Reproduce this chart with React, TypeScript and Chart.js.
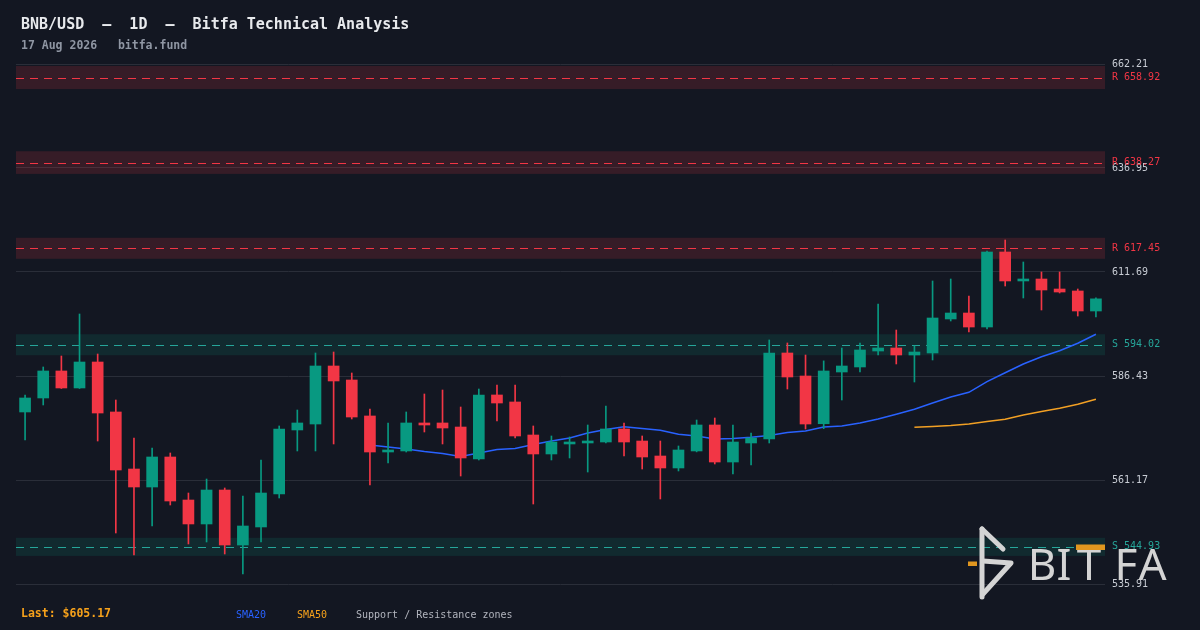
import React, { useEffect, useRef } from 'react';
import { Chart, registerables } from 'chart.js';

Chart.register(...registerables);

const BG = '#131722';
const MONO = '"DejaVu Sans Mono", "Liberation Mono", monospace';
const UP = '#089981';
const DOWN = '#f23645';

const TITLE = 'BNB/USD  –  1D  –  Bitfa Technical Analysis';
const SUBTITLE = '17 Aug 2026   bitfa.fund';
const LAST_LABEL = 'Last: $605.17';

const dates: string[] = Array.from({ length: 60 }, (_, i) =>
  new Date(Date.UTC(2026, 5, 19 + i)).toISOString().slice(0, 10)
);

const opens = [
  577.69, 581.09, 587.65, 583.52, 589.83, 577.69, 563.84, 559.47, 566.76, 556.31,
  550.49, 558.74, 545.38, 549.76, 557.77, 573.32, 574.77, 588.86, 585.46, 576.72,
  567.97, 568.22, 575.02, 575.02, 574.04, 566.27, 581.82, 580.12, 572.10, 567.49,
  569.92, 570.16, 570.40, 573.56, 570.64, 567.00, 564.09, 568.22, 574.53, 565.54,
  570.16, 571.13, 592.02, 586.43, 574.84, 587.40, 588.62, 592.50, 593.23, 591.53,
  592.02, 600.28, 601.73, 598.33, 616.55, 609.51, 609.99, 607.56, 607.08, 602.22,
];
const highs = [
  581.82, 588.62, 591.29, 601.49, 591.77, 580.60, 571.37, 568.94, 567.73, 558.01,
  561.41, 559.23, 557.29, 566.03, 574.29, 578.17, 592.02, 592.26, 587.16, 578.42,
  575.02, 577.69, 582.06, 583.03, 578.90, 583.27, 584.25, 584.25, 574.29, 571.86,
  571.62, 574.53, 579.15, 575.02, 571.86, 570.64, 569.43, 575.74, 576.23, 574.53,
  572.59, 595.18, 594.45, 591.53, 590.10, 593.23, 594.45, 603.92, 597.60, 593.72,
  609.51, 609.99, 605.86, 616.79, 619.46, 614.12, 611.69, 611.69, 607.56, 605.40,
];
const lows = [
  570.89, 579.39, 583.40, 583.40, 570.64, 548.30, 542.96, 550.00, 555.10, 545.63,
  546.11, 543.20, 538.34, 546.11, 556.80, 568.22, 568.22, 569.92, 575.99, 559.96,
  565.30, 567.97, 572.83, 569.92, 562.14, 566.03, 575.50, 571.37, 555.34, 566.03,
  566.52, 563.11, 570.20, 567.00, 563.84, 556.56, 563.36, 568.00, 565.06, 562.63,
  564.81, 570.16, 583.27, 573.56, 573.63, 580.60, 587.40, 591.53, 589.35, 584.97,
  590.32, 599.79, 597.12, 597.85, 608.29, 605.38, 602.46, 606.59, 601.00, 600.76,
];
const closes = [
  581.09, 587.65, 583.52, 589.83, 577.44, 563.60, 559.47, 566.76, 556.07, 550.49,
  558.74, 545.38, 550.00, 558.01, 573.56, 575.02, 588.86, 585.22, 576.47, 567.97,
  568.46, 575.02, 574.53, 573.80, 566.52, 581.82, 579.87, 571.86, 567.49, 570.40,
  570.40, 570.64, 573.56, 570.40, 566.76, 564.09, 568.46, 574.53, 565.54, 570.40,
  571.37, 592.02, 586.19, 574.77, 587.65, 588.86, 592.75, 593.23, 591.53, 592.26,
  600.52, 601.73, 598.33, 616.55, 609.51, 609.99, 607.32, 606.83, 602.22, 605.17,
];

const sma20: (number | null)[] = [
  null, null, null, null, null, null, null, null, null, null,
  null, null, null, null, null, null, null, null, null,
  569.67, 569.19, 568.70, 568.09, 567.61, 566.88, 567.73, 568.58, 568.82, 569.80,
  570.64, 571.37, 572.59, 573.44, 574.12, 573.68, 573.24, 572.27, 571.86, 571.13,
  571.25, 571.54, 571.98, 572.71, 573.07, 574.04, 574.29, 575.02, 575.99, 577.13,
  578.35, 579.87, 581.33, 582.47, 585.05, 587.23, 589.35, 591.12, 592.58, 594.38,
  596.56,
];
const sma50: (number | null)[] = [
  null, null, null, null, null, null, null, null, null, null,
  null, null, null, null, null, null, null, null, null, null,
  null, null, null, null, null, null, null, null, null, null,
  null, null, null, null, null, null, null, null, null, null,
  null, null, null, null, null, null, null, null, null,
  573.97, 574.16, 574.41, 574.77, 575.38, 575.91, 576.96, 577.81, 578.59, 579.56,
  580.77,
];

const yTicks = [535.91, 561.17, 586.43, 611.69, 636.95, 662.21];
const Y_MIN = 535.91;
const Y_MAX = 662.21;

const zonePrices = [658.92, 638.27, 617.45, 594.02, 544.93];
const zoneKinds = ['R', 'R', 'R', 'S', 'S'];
const zoneHalfWidths = [2.8, 2.75, 2.55, 2.55, 2.2];

const zonesPlugin = {
  id: 'zones',
  beforeDatasetsDraw(chart: any) {
    const { ctx, chartArea } = chart;
    const y = chart.scales.y;
    ctx.save();
    zonePrices.forEach((p, i) => {
      const res = zoneKinds[i] === 'R';
      const y1 = y.getPixelForValue(p + zoneHalfWidths[i]);
      const y2 = y.getPixelForValue(p - zoneHalfWidths[i]);
      ctx.fillStyle = res ? 'rgba(242,54,69,0.16)' : 'rgba(8,153,129,0.15)';
      ctx.fillRect(chartArea.left, y1, chartArea.right - chartArea.left, y2 - y1);
      const yc = Math.round(y.getPixelForValue(p)) + 0.5;
      ctx.strokeStyle = res ? '#f23645' : '#26a69a';
      ctx.lineWidth = 1.2;
      ctx.setLineDash([8, 6]);
      ctx.beginPath();
      ctx.moveTo(chartArea.left, yc);
      ctx.lineTo(chartArea.right, yc);
      ctx.stroke();
    });
    ctx.restore();
  },
  afterDraw(chart: any) {
    const { ctx, chartArea } = chart;
    const y = chart.scales.y;
    ctx.save();
    ctx.font = '10px ' + MONO;
    ctx.textAlign = 'left';
    ctx.textBaseline = 'middle';
    zonePrices.forEach((p, i) => {
      const res = zoneKinds[i] === 'R';
      ctx.fillStyle = res ? '#f23645' : '#26a69a';
      ctx.fillText(zoneKinds[i] + ' ' + p.toFixed(2), chartArea.right + 7, y.getPixelForValue(p));
    });
    ctx.restore();
  },
};

export default function App() {
  const ref = useRef<HTMLCanvasElement>(null);
  useEffect(() => {
    document.body.style.margin = '0';
    document.body.style.background = BG;
    const candleColors = closes.map((c, i) => (c >= opens[i] ? UP : DOWN));
    const chart = new Chart(ref.current as HTMLCanvasElement, {
      type: 'bar',
      data: {
        labels: dates,
        datasets: [
          {
            type: 'bar',
            label: 'body',
            data: opens.map((o, i) => [o, closes[i]]) as any,
            backgroundColor: candleColors,
            borderWidth: 0,
            barThickness: 11,
            minBarLength: 2,
            grouped: false,
            order: 0,
          } as any,
          {
            type: 'bar',
            label: 'wick',
            data: lows.map((l, i) => [l, highs[i]]) as any,
            backgroundColor: candleColors,
            borderWidth: 0,
            barThickness: 1,
            grouped: false,
            order: 1,
          } as any,
          {
            type: 'line',
            label: 'SMA20',
            data: sma20 as any,
            borderColor: '#2962ff',
            borderWidth: 1.5,
            pointRadius: 0,
            tension: 0,
            order: 2,
          } as any,
          {
            type: 'line',
            label: 'SMA50',
            data: sma50 as any,
            borderColor: '#f2a024',
            borderWidth: 1.5,
            pointRadius: 0,
            tension: 0,
            order: 3,
          } as any,
        ],
      },
      options: {
        responsive: false,
        animation: false,
        layout: { padding: { top: 64, bottom: 46, left: 16, right: 0 } },
        plugins: {
          legend: { display: false },
          tooltip: { enabled: false },
          title: { display: false },
        },
        scales: {
          x: {
            type: 'category',
            display: false,
            offset: true,
            grid: { display: false },
          },
          y: {
            position: 'right',
            min: Y_MIN,
            max: Y_MAX,
            afterBuildTicks: (s: any) => {
              s.ticks = yTicks.map((v) => ({ value: v }));
            },
            afterFit: (s: any) => {
              s.width = 95;
            },
            grid: { color: '#2a2e39', drawTicks: false, lineWidth: 1 },
            border: { display: false },
            ticks: {
              padding: 7,
              color: '#c8ccd4',
              font: { family: MONO, size: 10 },
              callback: (v: any) => Number(v).toFixed(2),
            },
          },
        },
      } as any,
      plugins: [zonesPlugin],
    });
    return () => chart.destroy();
  }, []);

  const wm = '#d4d4d4';
  const orange = '#e0961f';
  return (
    <div style={{ position: 'relative', width: 1200, height: 630, background: BG, overflow: 'hidden', fontFamily: MONO }}>
      <canvas ref={ref} width={1200} height={630} style={{ position: 'absolute', left: 0, top: 0, width: 1200, height: 630 }} />
      <div style={{ position: 'absolute', left: 21, top: 15, fontSize: 15, lineHeight: '18px', fontWeight: 700, color: '#e8eaed', whiteSpace: 'pre' }}>
        {TITLE}
      </div>
      <div style={{ position: 'absolute', left: 21, top: 38, fontSize: 11.5, lineHeight: '14px', fontWeight: 700, color: '#8f96a3', whiteSpace: 'pre' }}>
        {SUBTITLE}
      </div>
      <div style={{ position: 'absolute', left: 21, top: 606, fontSize: 11.5, lineHeight: '14px', fontWeight: 700, color: '#f7a21b', whiteSpace: 'pre' }}>
        {LAST_LABEL}
      </div>
      <div style={{ position: 'absolute', left: 236, top: 608, fontSize: 10, lineHeight: '13px', color: '#2962ff', whiteSpace: 'pre' }}>SMA20</div>
      <div style={{ position: 'absolute', left: 297, top: 608, fontSize: 10, lineHeight: '13px', color: '#f7a21b', whiteSpace: 'pre' }}>SMA50</div>
      <div style={{ position: 'absolute', left: 356, top: 608, fontSize: 10, lineHeight: '13px', color: '#b2b5be', whiteSpace: 'pre' }}>
        Support / Resistance zones
      </div>
      <svg width={1200} height={630} style={{ position: 'absolute', left: 0, top: 0, pointerEvents: 'none' }}>
        <g stroke={wm} strokeWidth={5} strokeLinecap="round" strokeLinejoin="round" fill="none">
          <path d="M982 529 L982 597" />
          <path d="M982 529 L1003 549" />
          <path d="M983 561 L1011 563 L983 594" />
        </g>
        <rect x={968} y={561.5} width={9} height={4.5} fill={orange} />
        <g fill={wm} fontFamily='"Noto Sans", Lato, sans-serif' fontSize={44} textAnchor="middle">
          <text x={1042} y={580}>B</text>
          <text x={1064} y={580}>I</text>
          <text x={1089} y={580}>T</text>
          <text x={1126} y={580}>F</text>
          <text x={1152.5} y={580}>A</text>
        </g>
        <rect x={1076} y={544.5} width={29} height={5.5} fill={orange} />
      </svg>
    </div>
  );
}
